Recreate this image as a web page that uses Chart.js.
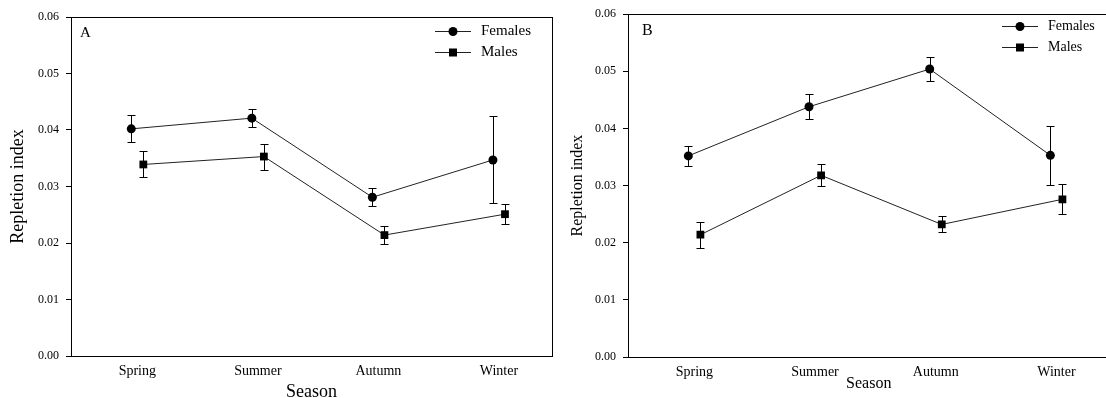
<!DOCTYPE html>
<html lang="en">
<head>
<meta charset="utf-8">
<title>Repletion index by season</title>
<script src="https://cdn.jsdelivr.net/npm/chart.js@4.4.0/dist/chart.umd.min.js"></script>
<style>
  html, body { margin: 0; padding: 0; background: #fff; overflow: hidden; width: 1106px; height: 398px; }
  .panel { position: absolute; top: 0; height: 398px; }
  #panelA { left: 0; width: 560px; }
  #panelB { left: 555px; width: 560px; }
</style>
</head>
<body>
<div class="panel" id="panelA"><canvas id="chartA"></canvas></div>
<div class="panel" id="panelB"><canvas id="chartB"></canvas></div>
<script>
// data
var seasons = ["Spring", "Summer", "Autumn", "Winter"];
var yTicks = [0.00, 0.01, 0.02, 0.03, 0.04, 0.05, 0.06];

// panel A
var femalesA   = [0.0402, 0.0421, 0.0281, 0.0347];
var femalesASE = [0.0024, 0.0016, 0.0016, 0.0077];
var malesA     = [0.0339, 0.0353, 0.0214, 0.0251];
var malesASE   = [0.0023, 0.0023, 0.0016, 0.0018];

// panel B
var femalesB   = [0.0352, 0.0438, 0.0504, 0.0353];
var femalesBSE = [0.0017, 0.0022, 0.0021, 0.0052];
var malesB     = [0.0214, 0.0318, 0.0232, 0.0276];
var malesBSE   = [0.0023, 0.0019, 0.0014, 0.0026];

var SERIF = '"Liberation Serif", "Times New Roman", serif';
var DODGE = 0.05; // females left, males right of each season

function points(vals, shift) {
  return vals.map(function (v, i) { return { x: i + 1 + shift, y: v }; });
}

// error bars, drawn through the scales
var errorBars = {
  id: 'errorBars',
  beforeDatasetsDraw: function (chart) {
    var ctx = chart.ctx, xs = chart.scales.x, ys = chart.scales.y;
    ctx.save();
    ctx.strokeStyle = '#000';
    ctx.lineWidth = 1;
    chart.data.datasets.forEach(function (ds) {
      ds.data.forEach(function (p, i) {
        var se = ds.se[i];
        var x = Math.round(xs.getPixelForValue(p.x)) + 0.5;
        var yt = Math.round(ys.getPixelForValue(p.y + se)) + 0.5;
        var yb = Math.round(ys.getPixelForValue(p.y - se)) + 0.5;
        ctx.beginPath();
        ctx.moveTo(x, yt); ctx.lineTo(x, yb);
        ctx.moveTo(x - 4, yt); ctx.lineTo(x + 4, yt);
        ctx.moveTo(x - 4, yb); ctx.lineTo(x + 4, yb);
        ctx.stroke();
      });
    });
    ctx.restore();
  }
};

// frame, panel letter and line+marker legend
var decor = {
  id: 'decor',
  afterDraw: function (chart, args, opts) {
    var ctx = chart.ctx, a = chart.chartArea;
    ctx.save();
    ctx.strokeStyle = '#000';
    ctx.lineWidth = 1;
    ctx.strokeRect(Math.round(a.left) + 0.5, Math.round(a.top) + 0.5,
                   Math.round(a.right - a.left), Math.round(a.bottom - a.top));
    ctx.fillStyle = '#000';
    ctx.font = opts.letterSize + 'px ' + SERIF;
    ctx.textBaseline = 'middle';
    ctx.fillText(opts.letter, a.left + opts.letterX, a.top + opts.letterY);

    ctx.font = opts.legendSize + 'px ' + SERIF;
    chart.data.datasets.forEach(function (ds, k) {
      var y = Math.round(opts.legendY + k * opts.legendGap) + 0.5;
      var x0 = opts.legendX;
      ctx.strokeStyle = '#222';
      ctx.beginPath();
      ctx.moveTo(x0, y); ctx.lineTo(x0 + 36, y);
      ctx.stroke();
      ctx.fillStyle = '#000';
      if (ds.pointStyle === 'circle') {
        ctx.beginPath();
        ctx.arc(x0 + 18, y, ds.pointRadius, 0, Math.PI * 2);
        ctx.fill();
      } else {
        ctx.fillRect(x0 + 14, y - 4, 8, 8);
      }
      ctx.fillText(ds.label, x0 + 46, y);
    });
    ctx.restore();
  }
};

function makeChart(id, f, fse, m, mse, cfg) {
  return new Chart(document.getElementById(id), {
    type: 'scatter',
    data: {
      datasets: [
        { label: 'Females', data: points(f, -DODGE), se: fse, showLine: true,
          borderColor: '#222', borderWidth: 1, pointStyle: 'circle', pointRadius: 4.5,
          pointBackgroundColor: '#000', pointBorderColor: '#000', pointBorderWidth: 0 },
        { label: 'Males', data: points(m, DODGE), se: mse, showLine: true,
          borderColor: '#222', borderWidth: 1, pointStyle: 'rect', pointRadius: 5.5,
          pointBackgroundColor: '#000', pointBorderColor: '#000', pointBorderWidth: 0 }
      ]
    },
    options: {
      responsive: true,
      maintainAspectRatio: false,
      animation: false,
      devicePixelRatio: 1,
      layout: { padding: { top: cfg.top, right: cfg.right, left: 0, bottom: 0 } },
      plugins: {
        legend: { display: false },
        tooltip: { enabled: false },
        decor: cfg.decor
      },
      scales: {
        x: {
          type: 'linear', min: 0.45, max: 4.44,
          afterBuildTicks: function (s) { s.ticks = seasons.map(function (_, i) { return { value: i + 1 }; }); },
          afterFit: function (s) { s.height = cfg.xHeight; },
          grid: { display: false, drawTicks: false, tickLength: 0 },
          border: { display: true, color: '#000', width: 1 },
          ticks: { color: '#000', padding: 7, maxRotation: 0, autoSkip: false,
                   font: { family: SERIF, size: 14 },
                   callback: function (v) { return seasons[Math.round(v) - 1]; } },
          title: { display: true, text: 'Season', color: '#000', padding: { top: 0, bottom: cfg.xTitlePad },
                   font: { family: SERIF, size: cfg.titleSize } }
        },
        y: {
          min: 0, max: 0.06,
          afterBuildTicks: function (s) { s.ticks = yTicks.map(function (v) { return { value: v }; }); },
          afterFit: function (s) { s.width = cfg.yWidth; },
          grid: { drawOnChartArea: false, drawTicks: true, tickLength: 5, color: '#000' },
          border: { display: true, color: '#000', width: 1 },
          ticks: { color: '#000', padding: 7, font: { family: SERIF, size: 12 },
                   callback: function (v) { return v.toFixed(2); } },
          title: { display: true, text: 'Repletion index', color: '#000', padding: { top: cfg.yTitlePad, bottom: 0 },
                   font: { family: SERIF, size: cfg.titleSize } }
        }
      }
    },
    plugins: [errorBars, decor]
  });
}

makeChart('chartA', femalesA, femalesASE, malesA, malesASE, {
  top: 17, right: 8, yWidth: 71, xHeight: 42, titleSize: 18, xTitlePad: -5, yTitlePad: 7,
  decor: { letter: 'A', letterX: 9, letterY: 16, letterSize: 15,
           legendX: 435, legendY: 31, legendGap: 21, legendSize: 15 }
});

makeChart('chartB', femalesB, femalesBSE, malesB, malesBSE, {
  top: 14, right: 3, yWidth: 73, xHeight: 41, titleSize: 16, xTitlePad: 5, yTitlePad: 13,
  decor: { letter: 'B', letterX: 14, letterY: 17, letterSize: 16,
           legendX: 447, legendY: 26, legendGap: 21, legendSize: 14 }
});
</script>
</body>
</html>
